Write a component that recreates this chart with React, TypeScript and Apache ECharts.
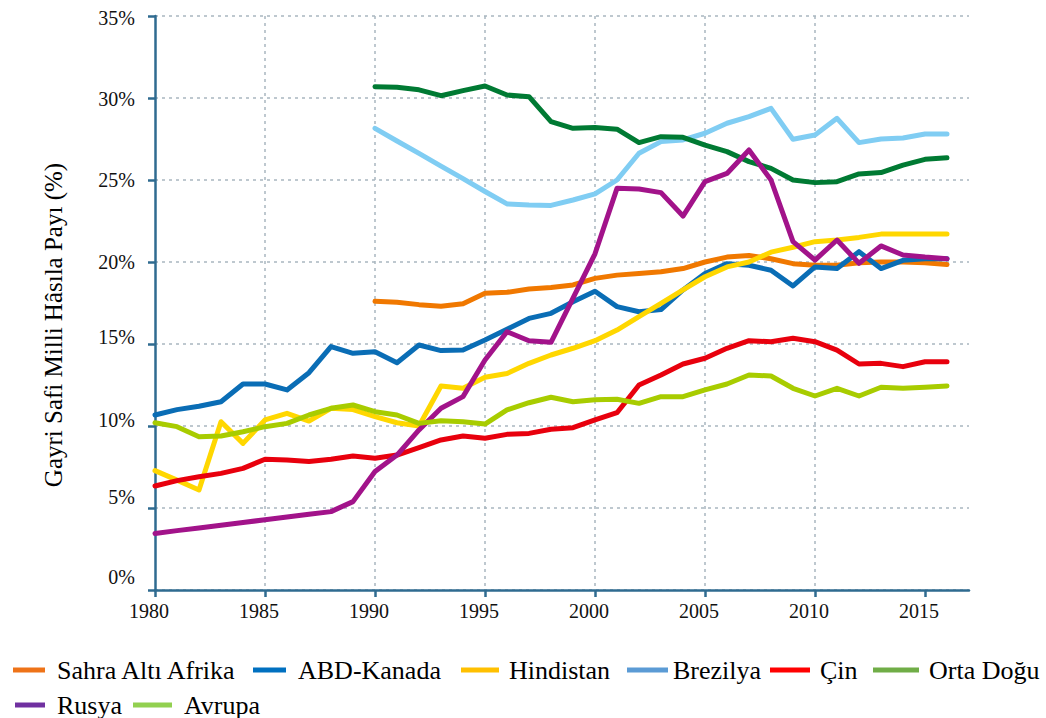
import React, { useEffect, useRef } from "react";
import * as echarts from "echarts";

const years = Array.from({ length: 37 }, (_, i) => 1980 + i);
const yearsFrom1990 = years.slice(10);

const sahraAltiAfrika = [17.6, 17.55, 17.4, 17.3, 17.45, 18.1, 18.15, 18.35, 18.45, 18.6, 19.0, 19.2, 19.3, 19.4, 19.6, 20.0, 20.3, 20.4, 20.2, 19.9, 19.8, 19.8, 19.95, 20.0, 20.0, 19.95, 19.85];
const abdKanada = [10.67, 11.0, 11.2, 11.48, 12.56, 12.56, 12.2, 13.25, 14.84, 14.43, 14.53, 13.86, 14.94, 14.6, 14.63, 15.24, 15.9, 16.56, 16.87, 17.58, 18.22, 17.28, 16.97, 17.1, 18.3, 19.3, 19.9, 19.8, 19.5, 18.54, 19.7, 19.6, 20.63, 19.6, 20.1, 20.2, 20.2];
const hindistan = [7.28, 6.7, 6.1, 10.26, 8.94, 10.37, 10.77, 10.3, 11.08, 11.0, 10.57, 10.2, 10.0, 12.44, 12.3, 12.97, 13.2, 13.82, 14.33, 14.74, 15.2, 15.85, 16.67, 17.48, 18.3, 19.1, 19.7, 20.0, 20.6, 20.9, 21.24, 21.34, 21.5, 21.7, 21.7, 21.7, 21.7];
const brezilya = [28.15, 27.38, 26.62, 25.85, 25.08, 24.3, 23.54, 23.48, 23.45, 23.78, 24.15, 25.0, 26.63, 27.34, 27.44, 27.85, 28.46, 28.86, 29.37, 27.48, 27.74, 28.76, 27.28, 27.5, 27.56, 27.8, 27.8];
const cin = [6.34, 6.67, 6.91, 7.11, 7.42, 7.97, 7.93, 7.83, 7.97, 8.17, 8.03, 8.23, 8.68, 9.15, 9.39, 9.25, 9.49, 9.55, 9.8, 9.9, 10.37, 10.81, 12.5, 13.11, 13.78, 14.13, 14.74, 15.2, 15.14, 15.35, 15.14, 14.63, 13.78, 13.82, 13.62, 13.92, 13.92];
const ortaDogu = [30.69, 30.65, 30.5, 30.14, 30.45, 30.73, 30.18, 30.08, 28.56, 28.15, 28.2, 28.1, 27.28, 27.64, 27.6, 27.13, 26.73, 26.12, 25.71, 25.0, 24.84, 24.9, 25.37, 25.45, 25.91, 26.26, 26.35];
const rusya = [3.45, 3.62, 3.78, 3.95, 4.12, 4.28, 4.45, 4.62, 4.78, 5.39, 7.22, 8.23, 9.76, 11.08, 11.79, 14.02, 15.75, 15.2, 15.1, 17.8, 20.5, 24.49, 24.45, 24.23, 22.8, 24.9, 25.4, 26.83, 25.0, 21.24, 20.12, 21.34, 19.92, 20.98, 20.43, 20.3, 20.2];
const avrupa = [10.2, 9.96, 9.35, 9.39, 9.65, 9.96, 10.16, 10.67, 11.08, 11.28, 10.87, 10.67, 10.16, 10.32, 10.26, 10.12, 10.98, 11.42, 11.75, 11.48, 11.6, 11.63, 11.38, 11.79, 11.79, 12.2, 12.56, 13.11, 13.05, 12.3, 11.83, 12.3, 11.83, 12.36, 12.3, 12.36, 12.44];

const xTickValues = [1980, 1985, 1990, 1995, 2000, 2005, 2010, 2015];
const yAxisTitle = "Gayri Safi Milli Hâsıla Payı (%)";

const seriesDefs = [
  { name: "Sahra Altı Afrika", x: yearsFrom1990, y: sahraAltiAfrika, line: "#F07800", legend: "#EE7318" },
  { name: "ABD-Kanada", x: years, y: abdKanada, line: "#0A6DB5", legend: "#0070C0" },
  { name: "Hindistan", x: years, y: hindistan, line: "#FFD700", legend: "#FFC000" },
  { name: "Brezilya", x: yearsFrom1990, y: brezilya, line: "#80CDF3", legend: "#5B9BD5" },
  { name: "Çin", x: years, y: cin, line: "#E8000D", legend: "#FF0000" },
  { name: "Orta Doğu", x: yearsFrom1990, y: ortaDogu, line: "#007A33", legend: "#70AD47" },
  { name: "Rusya", x: years, y: rusya, line: "#A2138A", legend: "#7030A0" },
  { name: "Avrupa", x: years, y: avrupa, line: "#A8CC00", legend: "#92D050" },
];

// legend placement: [left, top, iconWidth, textPadLeft]
const legendPlace: Record<string, [number, number, number, number]> = {
  "Sahra Altı Afrika": [13, 657, 32, 7],
  "ABD-Kanada": [253, 657, 33, 7],
  "Hindistan": [461, 657, 38, 5],
  "Brezilya": [627, 657, 41, 0],
  "Çin": [770, 657, 40, 5],
  "Orta Doğu": [873, 657, 46, 5],
  "Rusya": [15, 692, 30, 7],
  "Avrupa": [133, 692, 39, 7],
};

// vertical nudge (px, upward positive) of each y tick label, as in the source image
const yLabelNudge: Record<number, number> = { 0: 13, 5: 11, 10: 6, 15: 7, 20: 0, 25: 0, 30: -1, 35: -2 };

const FONT = "Liberation Serif, Times New Roman, serif";
const AXIS = "#2F6B90";

export default function App() {
  const ref = useRef<HTMLDivElement>(null);
  useEffect(() => {
    if (!ref.current) return;
    const chart = echarts.init(ref.current, null, { renderer: "svg" });
    const legends = seriesDefs.map((s) => {
      const [left, top, w, pad] = legendPlace[s.name];
      return {
        show: true,
        left,
        top,
        orient: "horizontal",
        padding: 0,
        itemWidth: w,
        itemHeight: 5,
        icon: "rect",
        selectedMode: false,
        data: [{ name: s.name, icon: "rect", itemStyle: { color: s.legend } }],
        textStyle: { fontFamily: FONT, fontSize: 26, color: "#000", padding: [0, 0, 0, pad] },
      };
    });
    const rich: Record<string, any> = {};
    Object.keys(yLabelNudge).forEach((k) => {
      const n = yLabelNudge[Number(k)];
      rich["v" + k] = {
        fontFamily: FONT,
        fontSize: 20,
        color: "#111",
        padding: n >= 0 ? [0, 0, 2 * n, 0] : [-2 * n, 0, 0, 0],
      };
    });
    chart.setOption({
      animation: false,
      backgroundColor: "#fff",
      textStyle: { fontFamily: FONT },
      grid: { left: 155, right: 77, top: 16, bottom: 128, containLabel: false },
      legend: legends,
      graphic: [
        {
          type: "text",
          x: 53,
          y: 325,
          rotation: Math.PI / 2,
          style: {
            text: yAxisTitle,
            fontFamily: FONT,
            fontSize: 25,
            fill: "#000",
            textAlign: "center",
            textVerticalAlign: "middle",
          },
        },
      ],
      xAxis: {
        type: "value",
        min: 1980,
        max: 2017,
        interval: 5,
        axisLine: { show: true, onZero: false, lineStyle: { color: AXIS, width: 2.5 } },
        axisTick: {
          show: true,
          inside: false,
          length: 7,
          customValues: xTickValues,
          lineStyle: { color: AXIS, width: 2.5 },
        },
        axisLabel: {
          formatter: (v: number) => (xTickValues.includes(v) ? String(v) : ""),
          fontFamily: FONT,
          fontSize: 20,
          color: "#111",
          margin: 11,
          padding: [0, 12, 0, 0],
        },
        splitLine: {
          show: true,
          showMinLine: false,
          showMaxLine: false,
          lineStyle: { color: "#A9B6C0", width: 1.5, type: [3, 4] },
        },
      },
      yAxis: {
        type: "value",
        min: 0,
        max: 35,
        interval: 5,
        axisLine: { show: true, lineStyle: { color: AXIS, width: 2.5 } },
        axisTick: { show: true, length: 7, lineStyle: { color: AXIS, width: 2.5 } },
        axisLabel: {
          formatter: (v: number) => "{v" + v + "|" + v + "%}",
          rich,
          fontFamily: FONT,
          fontSize: 20,
          color: "#111",
          margin: 20,
        },
        splitLine: {
          show: true,
          lineStyle: { color: "#A9B6C0", width: 1.5, type: [3, 4] },
        },
      },
      series: seriesDefs.map((s) => ({
        name: s.name,
        type: "line",
        data: s.x.map((yr, i) => [yr, s.y[i]]),
        showSymbol: false,
        symbol: "none",
        color: s.line,
        lineStyle: { color: s.line, width: 5, join: "round", cap: "round" },
        emphasis: { disabled: true },
      })),
    });
    return () => chart.dispose();
  }, []);
  return (
    <div
      ref={ref}
      style={{ position: "fixed", left: 0, top: 0, width: 1046, height: 718, background: "#fff" }}
    />
  );
}
